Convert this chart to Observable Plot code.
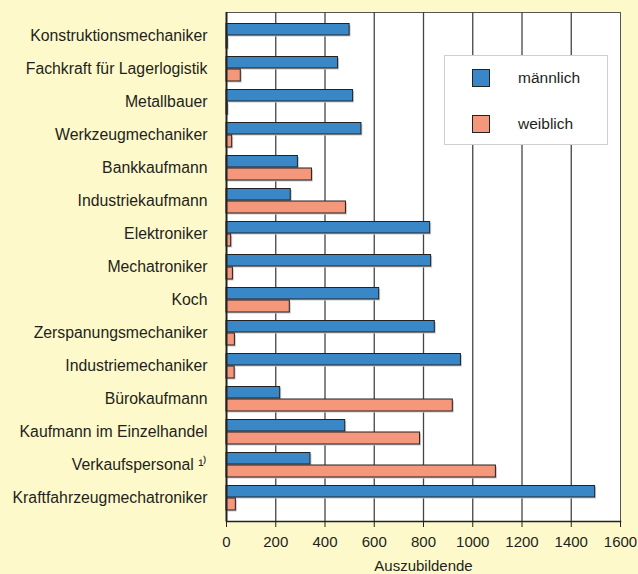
<!DOCTYPE html>
<html>
<head>
<meta charset="utf-8">
<script src="https://cdn.jsdelivr.net/npm/d3@7"></script>
<script src="https://cdn.jsdelivr.net/npm/@observablehq/plot@0.6"></script>
<style>
  html, body { margin: 0; padding: 0; background: #fef9cb; }
  #wrap { position: relative; width: 638px; height: 574px; font-family: "Liberation Sans", Arial, sans-serif; color: #231f20; }
  #legend { position: absolute; left: 444px; top: 55px; width: 164px; height: 90px; background: #fff; border: 1px solid #cfcfcf; box-sizing: border-box; }
  .sw { position: absolute; left: 27px; width: 18px; height: 18px; border: 1px solid #222; box-sizing: border-box; }
  .lt { position: absolute; left: 73px; font-size: 15.5px; line-height: 18px; }
</style>
</head>
<body>
<div id="wrap">
  <div id="chart"></div>
  <div id="legend">
    <div class="sw" style="top:13px;background:#3a87c8"></div>
    <div class="lt" style="top:13px">männlich</div>
    <div class="sw" style="top:59px;background:#f4977a"></div>
    <div class="lt" style="top:59px">weiblich</div>
  </div>
</div>
<script>
const categories = [
  "Konstruktionsmechaniker",
  "Fachkraft für Lagerlogistik",
  "Metallbauer",
  "Werkzeugmechaniker",
  "Bankkaufmann",
  "Industriekaufmann",
  "Elektroniker",
  "Mechatroniker",
  "Koch",
  "Zerspanungsmechaniker",
  "Industriemechaniker",
  "Bürokaufmann",
  "Kaufmann im Einzelhandel",
  "Verkaufspersonal ¹⁾",
  "Kraftfahrzeugmechatroniker"
];
const maennlich = [500, 453, 514, 548, 290, 261, 827, 831, 620, 846, 952, 218, 482, 341, 1497];
const weiblich  = [5, 58, 5, 23, 347, 485, 19, 26, 257, 34, 33, 919, 786, 1094, 38];
const xTicks = [0, 200, 400, 600, 800, 1000, 1200, 1400, 1600];
const xLabel = "Auszubildende";

const data = categories.map((c, i) => ({category: c, m: maennlich[i], w: weiblich[i]}));

const chart = Plot.plot({
  width: 638,
  height: 574,
  marginLeft: 226,
  marginRight: 18,
  marginTop: 12,
  marginBottom: 53,
  style: {background: "transparent", fontFamily: "'Liberation Sans', Arial, sans-serif", fontSize: "15px", color: "#231f20"},
  x: {domain: [0, 1600]},
  y: {domain: categories, padding: 0},
  marks: [
    Plot.frame({fill: "white", stroke: "#555"}),
    Plot.ruleX(xTicks.slice(1, -1), {stroke: "#444", strokeWidth: 1.3}),
    Plot.barX(data, {x: "m", y: "category", fill: "#c9c9c9", dx: 1.5, dy: 1.5, insetTop: 4.5, insetBottom: 17}),
    Plot.barX(data, {x: "w", y: "category", fill: "#c9c9c9", dx: 1.5, dy: 1.5, insetTop: 17, insetBottom: 4}),
    Plot.barX(data, {x: "m", y: "category", fill: "#3a87c8", stroke: "#222", strokeWidth: 1, insetTop: 4.5, insetBottom: 17}),
    Plot.barX(data, {x: "w", y: "category", fill: "#f4977a", stroke: "#222", strokeWidth: 1, insetTop: 17, insetBottom: 4}),
    Plot.ruleX([0], {stroke: "#222", strokeWidth: 2}),
    Plot.frame({anchor: "bottom", stroke: "#222", strokeWidth: 1.5}),
    Plot.axisX({ticks: xTicks, tickFormat: d => String(d), tickSize: 6, tickPadding: 9, stroke: "#222", fontSize: 15, label: null}),
    Plot.text([xLabel], {frameAnchor: "bottom", dy: 49, fontSize: 15, fill: "#231f20"}),
    Plot.axisY({tickSize: 0, tickPadding: 19, fontSize: 15.8, label: null})
  ]
});
document.getElementById("chart").appendChild(chart);
</script>
</body>
</html>
